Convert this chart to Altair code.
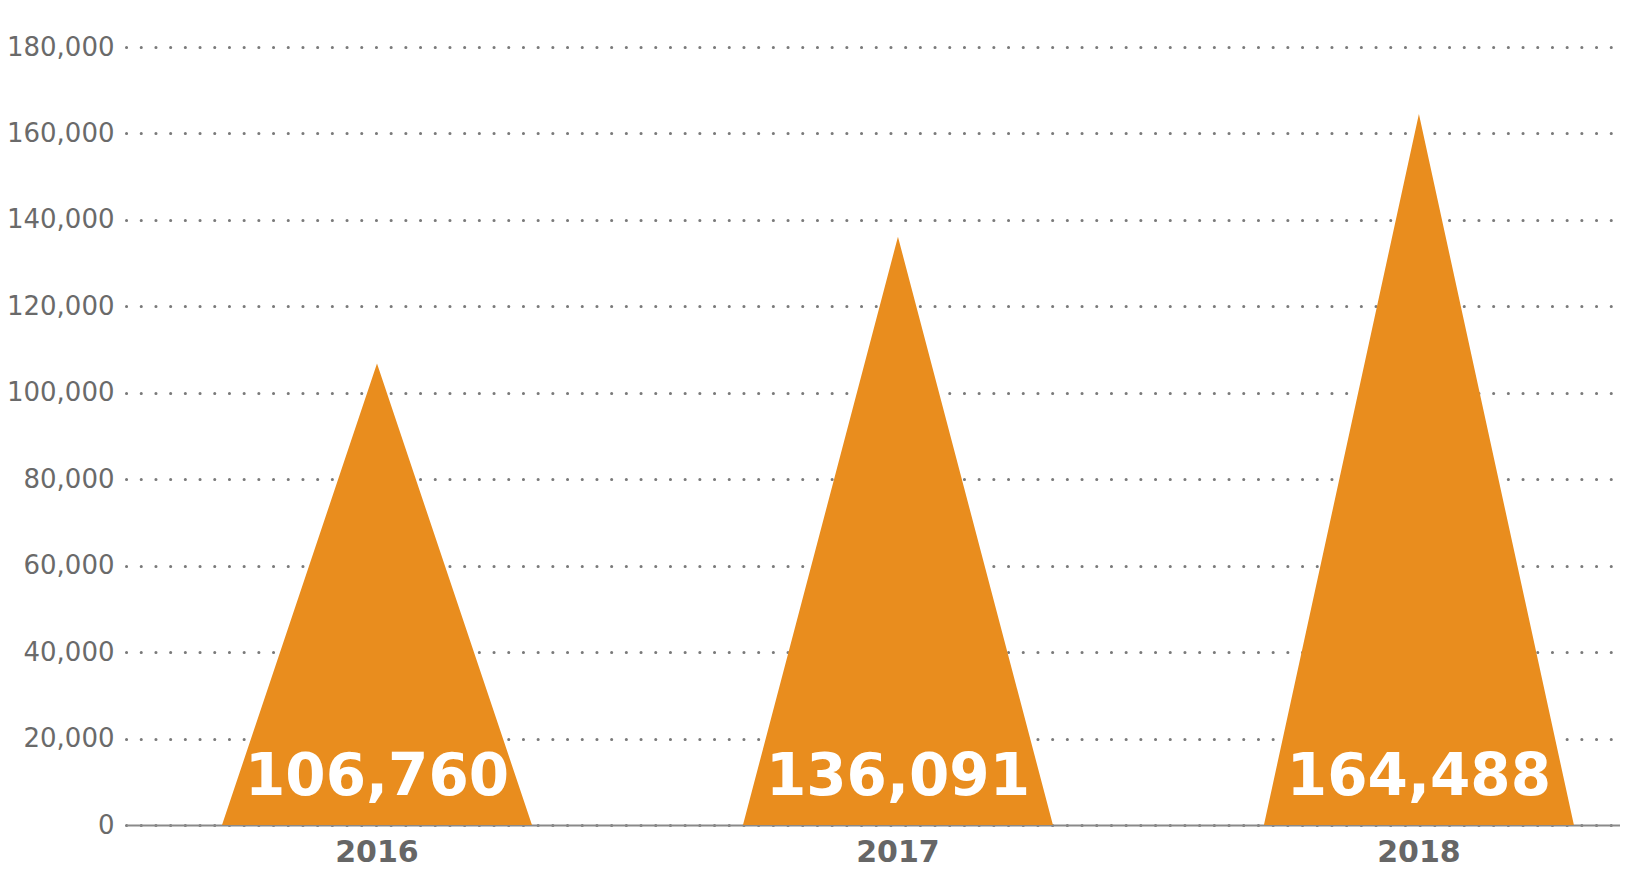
import altair as alt
import pandas as pd

years = ["2016", "2017", "2018"]
values = [106760, 136091, 164488]
y_ticks = [0, 20000, 40000, 60000, 80000, 100000, 120000, 140000, 160000, 180000]

df = pd.DataFrame({"year": years, "value": values, "idx": list(range(len(years)))})

xscale = alt.Scale(domain=[-0.4818, 2.386], nice=False, zero=False)
yscale = alt.Scale(domain=[0, 180000], nice=False)

base = alt.Chart(df)

tri = (
    base.transform_calculate(part="[-1, 0, 1]")
    .transform_flatten(["part"])
    .transform_calculate(
        px="datum.idx + datum.part * 0.2975",
        py="datum.part == 0 ? datum.value : 0",
    )
    .mark_area(color="#E98D1E", opacity=1, interpolate="linear")
    .encode(
        x=alt.X("px:Q", scale=xscale,
                axis=alt.Axis(grid=False, labels=False, ticks=False, domain=True,
                              domainColor="#8a8a8a", domainWidth=2, title=None)),
        y=alt.Y("py:Q", scale=yscale,
                axis=alt.Axis(values=y_ticks, format=",d", grid=True, gridDash=[0.1, 14.6],
                              gridCap="round", gridWidth=3, gridColor="#7a7a7a",
                              domain=False, ticks=False, labelPadding=12,
                              labelFontSize=26, labelColor="#6a6a6a",
                              labelFont="DejaVu Sans", title=None)),
        detail="year:N",
    )
)

value_labels = base.mark_text(
    font="DejaVu Sans", fontWeight="bold", fontSize=58, color="white",
    baseline="alphabetic", align="center", dy=-30
).encode(
    x=alt.X("idx:Q", scale=xscale),
    y=alt.datum(0, scale=yscale),
    text=alt.Text("value:Q", format=",d"),
)

year_labels = base.mark_text(
    font="DejaVu Sans", fontWeight="bold", fontSize=30, color="#666666",
    baseline="alphabetic", align="center", dy=37
).encode(
    x=alt.X("idx:Q", scale=xscale),
    y=alt.datum(0, scale=yscale),
    text="year:N",
)

chart = (
    alt.layer(tri, value_labels, year_labels)
    .properties(
        width=1494, height=778,
        padding={"left": 118, "top": 39, "right": 0, "bottom": 46},
        autosize=alt.AutoSizeParams(type="none"),
    )
    .configure_view(stroke=None)
)

chart.save("out.html", embed_options={"renderer": "svg", "actions": False})
